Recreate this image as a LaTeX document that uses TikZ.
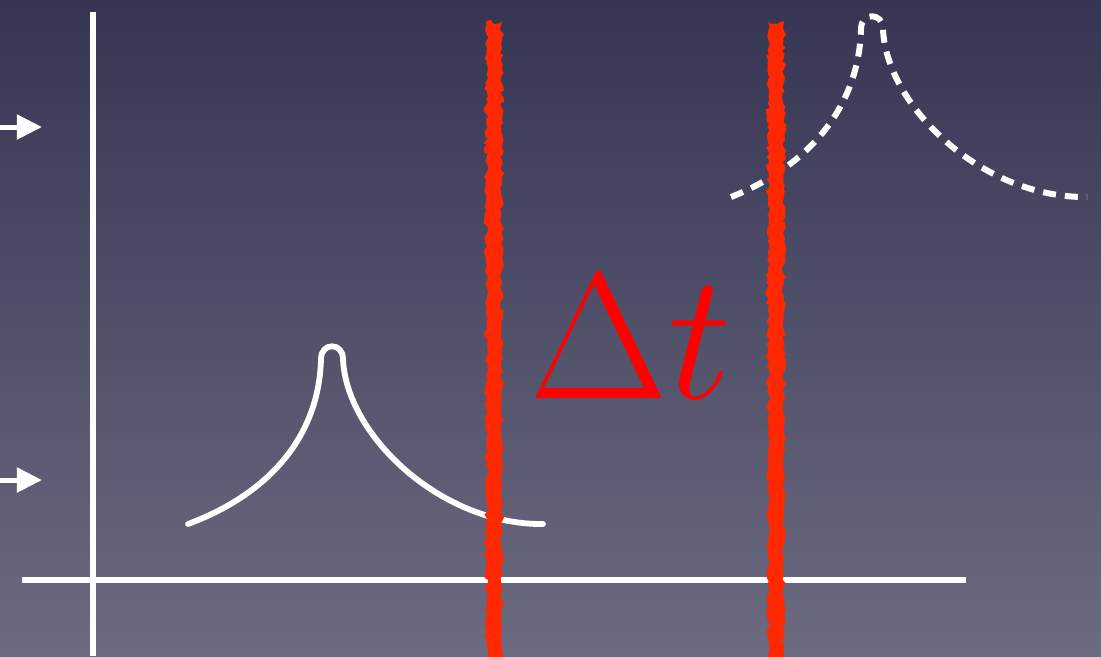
\documentclass[tikz,border=0pt]{standalone}
\usepackage{tikz}
\usetikzlibrary{arrows.meta, decorations.pathmorphing}
\definecolor{bgtop}{RGB}{54,54,84}
\definecolor{bgbottom}{RGB}{108,107,128}
\definecolor{markred}{RGB}{255,40,0}

\begin{document}
\begin{tikzpicture}[
    x=0.01cm, y=-0.01cm,
    axis/.style={white, line width=0.055cm},
    curve/.style={white, line width=0.058cm, line cap=round, line join=round},
    dashcurve/.style={curve, line width=0.06cm, line cap=butt, dash pattern=on 0.13cm off 0.09cm},
    pointer/.style={-{Triangle[length=0.25cm, width=0.24cm]}, white, line width=0.05cm},
    marker/.style={fill=markred, decorate, decoration={random steps, segment length=1pt, amplitude=0.6pt}},
]
\pgfmathsetseed{7}

% background
\shade[top color=bgtop, bottom color=bgbottom] (0,0) rectangle (1101,656);
\useasboundingbox (0,0) rectangle (1101,656);

% axes
\coordinate (ytop) at (93,12);
\coordinate (ybot) at (93,656);
\coordinate (xleft) at (22,580);
\coordinate (xright) at (966,580);
\draw[axis] (ytop) -- (ybot);
\draw[axis] (xleft) -- (xright);

% input arrows
\coordinate (in1) at (0,127);
\coordinate (in1tip) at (42,127);
\coordinate (in2) at (0,480);
\coordinate (in2tip) at (42,480);
\draw[pointer] (in1) -- (in1tip);
\draw[pointer] (in2) -- (in2tip);

% peaks
\coordinate (peak1) at (331,345);
\coordinate (peak2) at (871,15);
\draw[curve, shift={(peak1)}] (-143,179) .. controls (-60,148) and (-12,90) .. (-10,14)
    .. controls (-10,-3) and (12,-3) .. (12,14)
    .. controls (15,90) and (110,180) .. (212,179);
\draw[dashcurve, shift={(peak2)}] (-140,182) .. controls (-60,150) and (-12,90) .. (-10,14)
    .. controls (-10,-3) and (12,-3) .. (12,14)
    .. controls (15,90) and (110,183) .. (216,182);

% time marks
\fill[marker] (486,22) rectangle (502,660);
\fill[marker] (768,22) rectangle (784,660);

\node[text=red, anchor=base west, inner sep=0pt, font=\Huge, scale=2.058] (dt) at (528,398) {$\Delta t$};

\end{tikzpicture}
\end{document}
